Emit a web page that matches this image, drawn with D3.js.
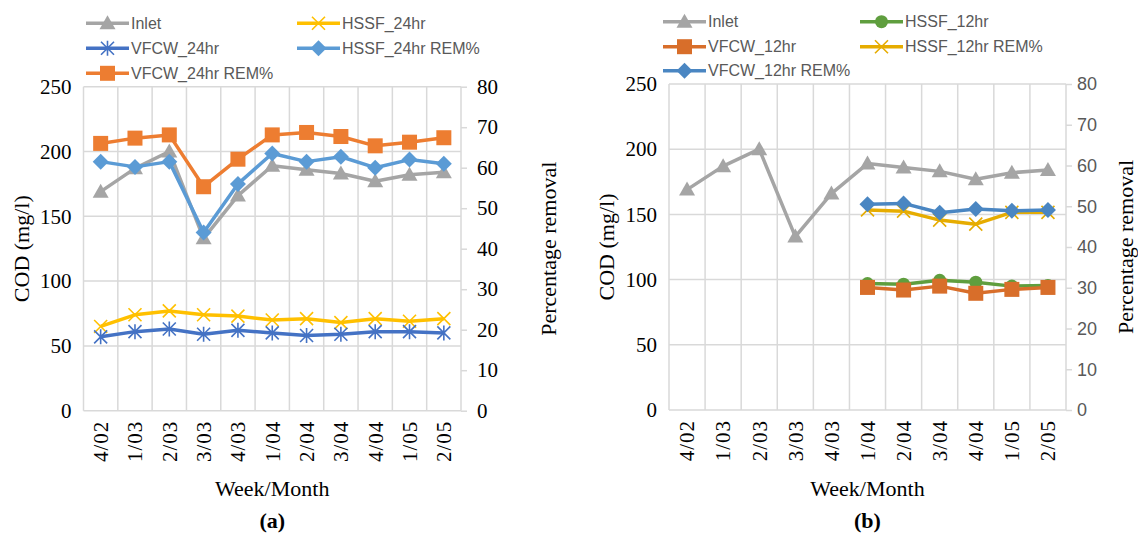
<!DOCTYPE html>
<html>
<head>
<meta charset="utf-8">
<script src="https://cdn.jsdelivr.net/npm/d3@7"></script>
<style>
  body { margin: 0; background: #fff; }
  svg { display: block; }
</style>
</head>
<body>
<div id="chart"></div>
<script>
// Categories and series
const weeks = ["4/02", "1/03", "2/03", "3/03", "4/03", "1/04", "2/04", "3/04", "4/04", "1/05", "2/05"];

const inlet = [169, 187, 200, 133, 166, 189, 186, 183, 177, 182, 184];

// panel (a): 24 hr
const hssf24 = [65, 74, 77, 74, 73, 70, 71, 68, 71, 69, 71];
const vfcw24 = [57, 61, 63, 59, 62, 60, 58, 59, 61, 61, 60];
const hssf24Rem = [61.5, 60.2, 61.5, 44, 56, 63.5, 61.5, 62.7, 60, 62, 61];
const vfcw24Rem = [66, 67.3, 68.1, 55.3, 62.1, 68.1, 68.7, 67.7, 65.4, 66.3, 67.4];

// panel (b): 12 hr (no values before 1/04)
const hssf12 = [null, null, null, null, null, 97, 96.5, 99.5, 98, 95, 95.5];
const vfcw12 = [null, null, null, null, null, 94, 92, 95, 89.5, 92.5, 94];
const hssf12Rem = [null, null, null, null, null, 49.1, 48.8, 46.6, 45.6, 48.5, 48.5];
const vfcw12Rem = [null, null, null, null, null, 50.5, 50.7, 48.4, 49.3, 48.9, 49.1];

const codTicks = [0, 50, 100, 150, 200, 250];
const pctTicks = [0, 10, 20, 30, 40, 50, 60, 70, 80];

const W = 1138, H = 533;
const SERIF = "'Liberation Serif', 'Times New Roman', serif";
const SANS = "'Liberation Sans', Arial, sans-serif";

const svg = d3.select("#chart").append("svg")
    .attr("width", W)
    .attr("height", H);

svg.append("rect").attr("width", W).attr("height", H).attr("fill", "#fff");

// marker drawing (Excel-like shapes)
function drawMarker(g, type, color, cx, cy) {
    if (type === "triangle") {
        g.append("path")
            .attr("d", `M${cx},${cy - 8}L${cx + 8},${cy + 6}L${cx - 8},${cy + 6}Z`)
            .attr("fill", color);
    } else if (type === "square") {
        g.append("rect")
            .attr("x", cx - 7.5).attr("y", cy - 7.5)
            .attr("width", 15).attr("height", 15)
            .attr("fill", color);
    } else if (type === "diamond") {
        g.append("path")
            .attr("d", `M${cx},${cy - 8}L${cx + 8},${cy}L${cx},${cy + 8}L${cx - 8},${cy}Z`)
            .attr("fill", color);
    } else if (type === "circle") {
        g.append("circle")
            .attr("cx", cx).attr("cy", cy).attr("r", 6.5)
            .attr("fill", color);
    } else if (type === "x") {
        g.append("path")
            .attr("d", `M${cx - 6.5},${cy - 6.5}L${cx + 6.5},${cy + 6.5}M${cx + 6.5},${cy - 6.5}L${cx - 6.5},${cy + 6.5}`)
            .attr("stroke", color).attr("stroke-width", 1.6).attr("fill", "none");
    } else if (type === "star") {
        g.append("path")
            .attr("d", `M${cx - 6.5},${cy - 6.5}L${cx + 6.5},${cy + 6.5}M${cx + 6.5},${cy - 6.5}L${cx - 6.5},${cy + 6.5}M${cx},${cy - 7.5}L${cx},${cy + 7.5}`)
            .attr("stroke", color).attr("stroke-width", 1.6).attr("fill", "none");
    }
}

function drawPanel(cfg) {
    const g = svg.append("g");

    const x = d3.scaleBand().domain(weeks).range([cfg.left, cfg.right]).padding(0);
    const cx = d => x(d) + x.bandwidth() / 2;
    const yL = d3.scaleLinear().domain([0, 250]).range([cfg.bottom, cfg.top]);
    const yR = d3.scaleLinear().domain([0, 80]).range([cfg.bottom, cfg.top]);

    // horizontal gridlines
    g.append("g")
        .selectAll("line")
        .data(codTicks)
        .enter().append("line")
        .attr("x1", cfg.left).attr("x2", cfg.right)
        .attr("y1", d => yL(d)).attr("y2", d => yL(d))
        .attr("stroke", "#d9d9d9").attr("stroke-width", 1.5);

    // vertical gridlines at category boundaries
    const edges = weeks.map(w => x(w)).concat([cfg.right]);
    g.append("g")
        .selectAll("line")
        .data(edges)
        .enter().append("line")
        .attr("x1", d => d).attr("x2", d => d)
        .attr("y1", cfg.top).attr("y2", cfg.bottom)
        .attr("stroke", "#d9d9d9").attr("stroke-width", 1.5);

    // left axis labels
    const axL = g.append("g")
        .attr("transform", `translate(${cfg.left},0)`)
        .call(d3.axisLeft(yL).tickValues(codTicks).tickSize(0).tickPadding(12));
    axL.select(".domain").remove();
    axL.selectAll("text")
        .attr("font-family", SERIF).attr("font-size", 21).attr("fill", "#000");

    // right axis (percentage)
    const axR = g.append("g")
        .attr("transform", `translate(${cfg.right},0)`)
        .call(d3.axisRight(yR).tickValues(pctTicks).tickSize(6).tickPadding(cfg.rightPad));
    axR.select(".domain").remove();
    axR.selectAll("line").attr("stroke", "#d9d9d9").attr("stroke-width", 1.5);
    axR.selectAll("text")
        .attr("font-family", cfg.rightFont).attr("font-size", cfg.rightSize).attr("fill", cfg.rightColor);

    // category labels, rotated
    const axB = g.append("g")
        .attr("transform", `translate(0,${cfg.bottom})`)
        .call(d3.axisBottom(x).tickSize(0));
    axB.select(".domain").remove();
    axB.selectAll("text")
        .attr("font-family", SERIF).attr("font-size", 21).attr("fill", "#000")
        .attr("letter-spacing", 1)
        .attr("transform", "rotate(-90)")
        .attr("text-anchor", "end")
        .attr("x", -10).attr("y", 0).attr("dy", "0.35em");

    // series
    cfg.series.forEach(s => {
        const y = s.axis === "right" ? yR : yL;
        const line = d3.line()
            .defined(d => d != null)
            .x((d, i) => cx(weeks[i]))
            .y(d => y(d));
        const sg = g.append("g");
        sg.append("path")
            .datum(s.values)
            .attr("d", line)
            .attr("fill", "none")
            .attr("stroke", s.color)
            .attr("stroke-width", 3.5)
            .attr("stroke-linejoin", "round");
        s.values.forEach((v, i) => {
            if (v == null) return;
            drawMarker(sg, s.marker, s.color, cx(weeks[i]), y(v));
        });
    });

    // legend
    cfg.series.forEach((s, i) => {
        const col = i % 2, row = Math.floor(i / 2);
        const lx = cfg.legendX[col], ly = cfg.legendY[row];
        const lg = g.append("g");
        lg.append("line")
            .attr("x1", lx).attr("x2", lx + 43)
            .attr("y1", ly).attr("y2", ly)
            .attr("stroke", s.color).attr("stroke-width", 3.5);
        drawMarker(lg, s.marker, s.color, lx + 21.5, ly);
        lg.append("text")
            .attr("x", lx + 45).attr("y", ly)
            .attr("dy", "0.36em")
            .attr("font-family", SANS).attr("font-size", 16)
            .attr("fill", "#595959")
            .text(s.name);
    });

    // axis titles
    const cy = (cfg.top + cfg.bottom) / 2;
    g.append("text")
        .attr("transform", `translate(${cfg.leftTitleX},${cy}) rotate(-90)`)
        .attr("text-anchor", "middle").attr("dy", "0.32em")
        .attr("font-family", SERIF).attr("font-size", 22)
        .text("COD (mg/l)");
    g.append("text")
        .attr("transform", `translate(${cfg.rightTitleX},${cy}) rotate(-90)`)
        .attr("text-anchor", "middle").attr("dy", "0.32em")
        .attr("font-family", SERIF).attr("font-size", 22)
        .text("Percentage removal");
    const mid = (cfg.left + cfg.right) / 2;
    g.append("text")
        .attr("x", mid).attr("y", 496)
        .attr("text-anchor", "middle")
        .attr("font-family", SERIF).attr("font-size", 22)
        .text("Week/Month");
    g.append("text")
        .attr("x", mid).attr("y", 528)
        .attr("text-anchor", "middle")
        .attr("font-family", SERIF).attr("font-size", 22).attr("font-weight", "bold")
        .text(cfg.label);
}

drawPanel({
    left: 83.5, right: 461, top: 86.7, bottom: 410.7,
    rightPad: 10, rightFont: SERIF, rightSize: 21, rightColor: "#000",
    legendX: [86, 297], legendY: [23.3, 48.3, 73.3],
    leftTitleX: 22, rightTitleX: 549, label: "(a)",
    series: [
        { name: "Inlet", values: inlet, axis: "left", color: "#a5a5a5", marker: "triangle" },
        { name: "HSSF_24hr", values: hssf24, axis: "left", color: "#ffc000", marker: "x" },
        { name: "VFCW_24hr", values: vfcw24, axis: "left", color: "#4472c4", marker: "star" },
        { name: "HSSF_24hr REM%", values: hssf24Rem, axis: "right", color: "#5b9bd5", marker: "diamond" },
        { name: "VFCW_24hr REM%", values: vfcw24Rem, axis: "right", color: "#ed7d31", marker: "square" }
    ]
});

drawPanel({
    left: 669, right: 1066, top: 84, bottom: 410,
    rightPad: 5, rightFont: SANS, rightSize: 18, rightColor: "#595959",
    legendX: [663, 860], legendY: [21.7, 46.7, 70.7],
    leftTitleX: 607, rightTitleX: 1126, label: "(b)",
    series: [
        { name: "Inlet", values: inlet, axis: "left", color: "#a5a5a5", marker: "triangle" },
        { name: "HSSF_12hr", values: hssf12, axis: "left", color: "#5f9e3e", marker: "circle" },
        { name: "VFCW_12hr", values: vfcw12, axis: "left", color: "#d86e2a", marker: "square" },
        { name: "HSSF_12hr REM%", values: hssf12Rem, axis: "right", color: "#e6ac00", marker: "x" },
        { name: "VFCW_12hr REM%", values: vfcw12Rem, axis: "right", color: "#4a86c2", marker: "diamond" }
    ]
});
</script>
</body>
</html>
